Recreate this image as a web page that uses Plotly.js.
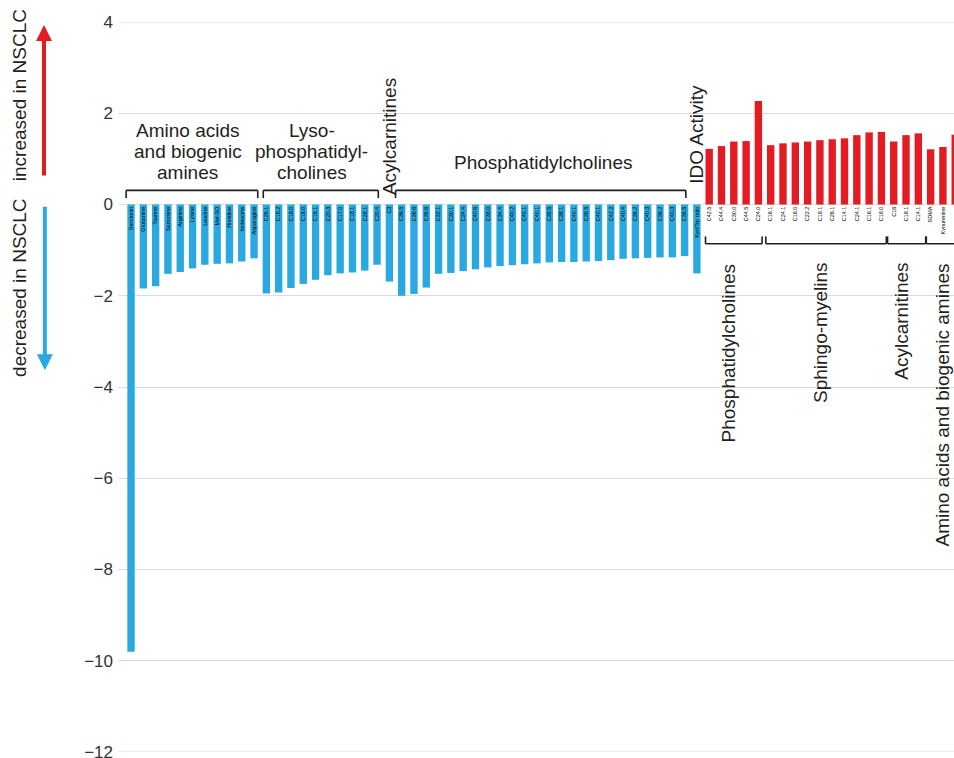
<!DOCTYPE html>
<html>
<head>
<meta charset="utf-8">
<script src="https://cdn.plot.ly/plotly-3.0.1.min.js"></script>
<style>
  html, body { margin: 0; padding: 0; background: #ffffff; overflow: hidden; }
  #chart { width: 954px; height: 758px; }
</style>
</head>
<body>
<div id="chart"></div>
<script>
// Metabolites lowered in NSCLC (negative values)
const aminoDownLabels = ['Serotonin', 'Glutamine', 'Taurine', 'Sarcosine', 'Arginine', 'Lysine', 'Leucine', 'Met-SO', 'Histidine', 'Isoleucine', 'Asparagine'];
const aminoDownValues = [-9.8, -1.84, -1.79, -1.52, -1.48, -1.4, -1.32, -1.3, -1.29, -1.25, -1.18];

const lysoDownLabels = ['C26.1', 'C18.2', 'C18.0', 'C16.0', 'C16.1', 'C20.3', 'C17.0', 'C18.1', 'C28.1', 'C20.4'];
const lysoDownValues = [-1.95, -1.93, -1.83, -1.74, -1.65, -1.55, -1.51, -1.49, -1.45, -1.32];

const acylDownLabels = ['C3'];
const acylDownValues = [-1.69];

const pcDownLabels = ['C36.5', 'C38.6', 'C36.6', 'C32.1', 'C30.1', 'C34.4', 'C40.6', 'C38.0', 'C34.4', 'C40.2', 'C40.1', 'C40.1',
                      'C38.5', 'C38.1', 'C40.1', 'C38.5', 'C40.1', 'C42.2', 'C40.4', 'C36.2', 'C40.3', 'C38.2', 'C40.3', 'C36.5'];
const pcDownValues = [-2.0, -1.96, -1.82, -1.52, -1.5, -1.46, -1.42, -1.38, -1.35, -1.33, -1.31, -1.29,
                      -1.27, -1.26, -1.26, -1.25, -1.24, -1.22, -1.19, -1.18, -1.17, -1.16, -1.16, -1.13];

const idoLabels = ['Kyn/Trp ratio'];
const idoValues = [-1.51];

// Metabolites raised in NSCLC (positive values)
const pcUpLabels = ['C42.5', 'C44.4', 'C30.0', 'C44.5', 'C24.0'];
const pcUpValues = [1.22, 1.28, 1.38, 1.39, 2.27];

const smUpLabels = ['C16.1', 'C24.1', 'C16.0', 'C22.2', 'C18.1', 'C26.1', 'C14.1', 'C24.1', 'C16.1', 'C18.0'];
const smUpValues = [1.30, 1.34, 1.36, 1.38, 1.41, 1.43, 1.45, 1.52, 1.58, 1.59];

const acylUpLabels = ['C16', 'C18.1', 'C14.1'];
const acylUpValues = [1.38, 1.52, 1.56];

const aminoUpLabels = ['SDMA', 'Kynurenine', 'ADMA'];
const aminoUpValues = [1.21, 1.26, 1.53];

const yTickValues = [4, 2, 0, -2, -4, -6, -8, -10, -12];

const BLUE = '#29A9E0';
const RED = '#E31B23';
const INK = '#231F20';
const GRID = '#dcdcdc';
const FONT = '"Liberation Sans", Arial, Helvetica, sans-serif';

// Lay the groups out one after another on a shared index axis
const downGroups = [
  [aminoDownLabels, aminoDownValues],
  [lysoDownLabels, lysoDownValues],
  [acylDownLabels, acylDownValues],
  [pcDownLabels, pcDownValues],
  [idoLabels, idoValues]
];
const upGroups = [
  [pcUpLabels, pcUpValues],
  [smUpLabels, smUpValues],
  [acylUpLabels, acylUpValues],
  [aminoUpLabels, aminoUpValues]
];

const allLabels = [];
const downX = [], downY = [], upX = [], upY = [];
const starts = [];
downGroups.forEach(([labels, values]) => {
  starts.push(allLabels.length);
  labels.forEach((lab, i) => { downX.push(allLabels.length); downY.push(values[i]); allLabels.push(lab); });
});
upGroups.forEach(([labels, values]) => {
  starts.push(allLabels.length);
  labels.forEach((lab, i) => { upX.push(allLabels.length); upY.push(values[i]); allLabels.push(lab); });
});
const [sAmino, sLyso, sAcyl, sPC, sIdo, sPCup, sSM, sAcylUp, sAminoUp] = starts;

const traces = [
  { type: 'bar', x: downX, y: downY, marker: { color: BLUE }, width: 0.6, hoverinfo: 'y', showlegend: false },
  { type: 'bar', x: upX, y: upY, marker: { color: RED }, width: 0.6, hoverinfo: 'y', showlegend: false }
];

// Brackets: above the lowered groups (legs down), below the raised groups (legs up)
const shapes = [
  // grid lines at the two ends of the value range
  { type: 'line', xref: 'paper', yref: 'y', x0: 0, x1: 1, y0: 4, y1: 4, line: { color: GRID, width: 1 }, layer: 'below' },
  { type: 'line', xref: 'paper', yref: 'y', x0: 0, x1: 1, y0: -12, y1: -12, line: { color: GRID, width: 1 }, layer: 'below' }
];
function bracket(x0, x1, yLine, yEnd) {
  const line = { color: INK, width: 1.6 };
  shapes.push({ type: 'line', xref: 'x', yref: 'y', x0: x0, x1: x1, y0: yLine, y1: yLine, line });
  shapes.push({ type: 'line', xref: 'x', yref: 'y', x0: x0, x1: x0, y0: yLine, y1: yEnd, line });
  shapes.push({ type: 'line', xref: 'x', yref: 'y', x0: x1, x1: x1, y0: yLine, y1: yEnd, line });
}
bracket(sAmino - 0.4, sLyso - 0.7, 0.31, 0.14);
bracket(sLyso - 0.25, sAcyl - 0.9, 0.31, 0.14);
bracket(sPC - 0.5, sIdo - 0.9, 0.31, 0.14);
bracket(sPCup - 0.3, sSM - 0.7, -0.86, -0.7);
bracket(sSM - 0.4, sAcylUp - 0.6, -0.86, -0.7);
bracket(sAcylUp - 0.5, sAminoUp - 0.4, -0.86, -0.7);
bracket(sAminoUp - 0.35, sAminoUp + 4, -0.86, -0.7);

const groupFont = { family: FONT, size: 19, color: INK };
function label(x, y, text, extra) {
  return Object.assign({ x: x, y: y, xref: 'x', yref: 'y', text: text, showarrow: false,
    xanchor: 'center', yanchor: 'middle', font: groupFont }, extra || {});
}

const annotations = [
  // Titles of the lowered groups
  label(sAmino + 4.6, 1.62, 'Amino acids'),
  label(sAmino + 4.6, 1.16, 'and biogenic'),
  label(sAmino + 4.6, 0.70, 'amines'),
  label(sLyso + 3.7, 1.62, 'Lyso-'),
  label(sLyso + 3.7, 1.16, 'phosphatidyl-'),
  label(sLyso + 3.7, 0.70, 'cholines'),
  label(sAcyl, 0.16, 'Acylcarnitines', { textangle: -90, yanchor: 'bottom' }),
  label(sPC + 11.5, 0.93, 'Phosphatidylcholines'),
  label(sIdo, 0.42, 'IDO Activity', { textangle: -90, yanchor: 'bottom' }),
  // Titles of the raised groups
  label(sPCup + 1.6, -1.24, 'Phosphatidylcholines', { textangle: -90, yanchor: 'top' }),
  label(sSM + 4.0, -1.24, 'Sphingo-myelins', { textangle: -90, yanchor: 'top' }),
  label(sAcylUp + 0.6, -1.24, 'Acylcarnitines', { textangle: -90, yanchor: 'top' }),
  label(sAminoUp + 1.0, -1.24, 'Amino acids and biogenic amines', { textangle: -90, yanchor: 'top' }),
  // Direction arrows and captions in the left margin
  { x: -0.0885, y: 0.996, xref: 'paper', yref: 'paper', ax: 0, ay: 152, axref: 'pixel', ayref: 'pixel', text: '', showarrow: true,
    arrowhead: 2, arrowsize: 0.8, arrowwidth: 4, arrowcolor: RED },
  { x: -0.0875, y: 0.523, xref: 'paper', yref: 'paper', ax: 0, ay: -165, axref: 'pixel', ayref: 'pixel', text: '', showarrow: true,
    arrowhead: 2, arrowsize: 0.8, arrowwidth: 4, arrowcolor: BLUE },
  { x: -0.117, y: 0.9, xref: 'paper', yref: 'paper', text: 'increased in NSCLC', textangle: -90, showarrow: false,
    xanchor: 'center', yanchor: 'middle', font: groupFont },
  { x: -0.117, y: 0.636, xref: 'paper', yref: 'paper', text: 'decreased in NSCLC', textangle: -90, showarrow: false,
    xanchor: 'center', yanchor: 'middle', font: groupFont }
];

const layout = {
  width: 954,
  height: 758,
  margin: { l: 118, r: 0, t: 22, b: 6 },
  paper_bgcolor: '#ffffff',
  plot_bgcolor: '#ffffff',
  font: { family: FONT, color: INK },
  barmode: 'overlay',
  showlegend: false,
  xaxis: {
    range: [-1.06, 66.9],
    anchor: 'free',
    position: 0.75,
    tickmode: 'array',
    tickvals: allLabels.map((_, i) => i),
    ticktext: allLabels,
    tickangle: -90,
    tickfont: { family: FONT, size: 5.5, color: '#000000' },
    ticks: '',
    showgrid: false,
    zeroline: false,
    showline: false,
    automargin: false,
    fixedrange: true
  },
  yaxis: {
    range: [-12, 4],
    tickmode: 'array',
    tickvals: yTickValues,
    tickfont: { family: FONT, size: 17, color: '#333333' },
    ticklabelstandoff: 4,
    ticklabeloverflow: 'allow',
    showgrid: true,
    gridcolor: GRID,
    gridwidth: 1,
    zeroline: false,
    showline: false,
    ticks: '',
    automargin: false,
    fixedrange: true
  },
  shapes: shapes,
  annotations: annotations
};

Plotly.newPlot('chart', traces, layout, { displayModeBar: false, staticPlot: true });
</script>
</body>
</html>
